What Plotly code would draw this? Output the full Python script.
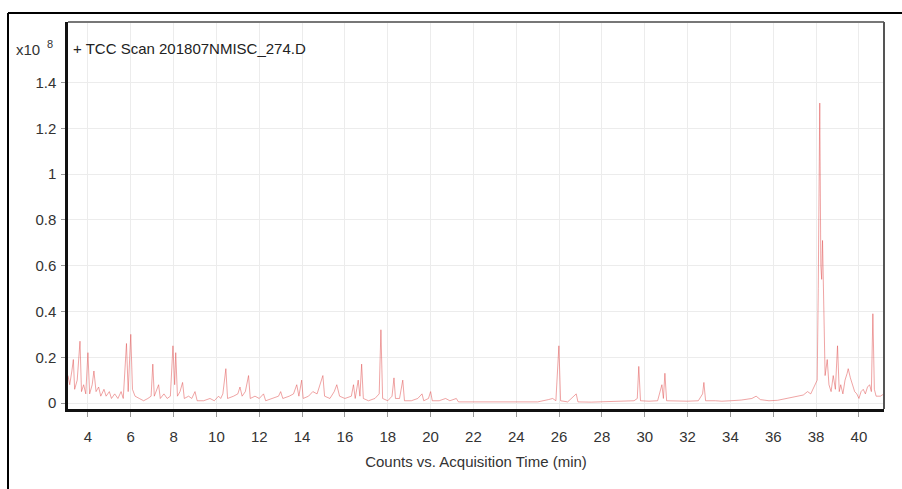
import plotly.graph_objects as go

# Acquisition time (min) and counts (x10^8)
time_min = [
    3.07, 3.15, 3.25, 3.32, 3.38, 3.5, 3.63, 3.7, 3.8, 3.9, 4.0, 4.08, 4.2, 4.28, 4.38, 4.5, 4.6, 4.75,
    4.85, 5.0, 5.1, 5.25, 5.4, 5.55, 5.65, 5.8, 5.88, 6.0, 6.08, 6.2, 6.4, 6.6, 6.8, 6.95, 7.03, 7.1,
    7.3, 7.38, 7.55, 7.7, 7.85, 7.97, 8.05, 8.1, 8.18, 8.3, 8.42, 8.5, 8.7, 8.85, 9.0, 9.1, 9.4, 9.7,
    9.9, 10.1, 10.2, 10.3, 10.44, 10.52, 10.8, 11.0, 11.1, 11.2, 11.35, 11.5, 11.58, 11.8, 12.0, 12.2,
    12.3, 12.6, 12.9, 13.0, 13.1, 13.4, 13.6, 13.75, 13.85, 13.98, 14.05, 14.3, 14.5, 14.7, 14.97,
    15.05, 15.3, 15.5, 15.62, 15.75, 16.0, 16.3, 16.4, 16.48, 16.62, 16.7, 16.78, 16.86, 17.1, 17.4,
    17.6, 17.68, 17.76, 18.0, 18.2, 18.29, 18.36, 18.55, 18.7, 18.78, 19.1, 19.4, 19.6, 19.68, 19.9,
    20.0, 20.08, 20.4, 20.7, 20.9, 21.2, 21.3, 22.0, 23.0, 24.0, 25.0, 25.5, 25.7, 25.85, 25.99, 26.07,
    26.4, 26.8, 26.88, 27.5, 28.0, 28.5, 29.0, 29.5, 29.65, 29.72, 29.8, 30.2, 30.6, 30.8, 30.87,
    30.94, 31.02, 31.5, 32.0, 32.5, 32.7, 32.76, 32.84, 33.3, 33.6, 34.0, 34.5, 35.0, 35.2, 35.4, 35.8,
    36.2, 36.6, 37.0, 37.4, 37.6, 37.75, 37.9, 38.05, 38.1, 38.17, 38.22, 38.26, 38.3, 38.35, 38.42,
    38.52, 38.6, 38.7, 38.8, 38.9, 39.0, 39.08, 39.15, 39.25, 39.35, 39.45, 39.5, 39.6, 39.7, 39.8,
    39.9, 40.0, 40.1, 40.2, 40.3, 40.4, 40.5, 40.58, 40.65, 40.72, 40.8, 41.0, 41.17,
]
counts_e8 = [
    0.12, 0.08, 0.14, 0.19, 0.06, 0.10, 0.27, 0.05, 0.08, 0.04, 0.22, 0.04, 0.08, 0.14, 0.05, 0.07, 0.03, 0.06,
    0.03, 0.05, 0.02, 0.04, 0.02, 0.05, 0.02, 0.26, 0.05, 0.30, 0.06, 0.03, 0.02, 0.01, 0.02, 0.03, 0.17, 0.03,
    0.08, 0.02, 0.04, 0.02, 0.03, 0.25, 0.08, 0.22, 0.03, 0.05, 0.09, 0.02, 0.03, 0.02, 0.05, 0.01, 0.01, 0.02,
    0.01, 0.03, 0.02, 0.04, 0.15, 0.02, 0.03, 0.04, 0.07, 0.03, 0.05, 0.12, 0.02, 0.03, 0.02, 0.04,
    0.01, 0.02, 0.03, 0.05, 0.02, 0.03, 0.04, 0.08, 0.03, 0.10, 0.02, 0.03, 0.05, 0.04, 0.12,
    0.03, 0.02, 0.05, 0.08, 0.03, 0.02, 0.03, 0.08, 0.02, 0.10, 0.03, 0.17, 0.02, 0.01, 0.02,
    0.04, 0.32, 0.02, 0.01, 0.03, 0.11, 0.02, 0.02, 0.10, 0.01, 0.01, 0.02, 0.04, 0.01, 0.02,
    0.05, 0.01, 0.01, 0.02, 0.01, 0.02, 0.005, 0.005, 0.004, 0.004, 0.005, 0.015, 0.02, 0.01, 0.25, 0.01,
    0.005, 0.04, 0.005, 0.004, 0.005, 0.005, 0.006, 0.01, 0.02, 0.16, 0.01, 0.008, 0.01, 0.08, 0.02,
    0.13, 0.01, 0.008, 0.008, 0.01, 0.04, 0.09, 0.01, 0.01, 0.008, 0.01, 0.013, 0.02, 0.03, 0.015, 0.01,
    0.012, 0.02, 0.025, 0.035, 0.05, 0.04, 0.07, 0.10, 0.5, 1.31, 0.6, 0.54, 0.71, 0.4, 0.12,
    0.19, 0.08, 0.05, 0.12, 0.06, 0.25, 0.05, 0.08, 0.04, 0.10, 0.13, 0.15, 0.11, 0.08, 0.05,
    0.04, 0.02, 0.05, 0.06, 0.04, 0.07, 0.08, 0.05, 0.39, 0.06, 0.03, 0.03, 0.04,
]

x_ticks = [4, 6, 8, 10, 12, 14, 16, 18, 20, 22, 24, 26, 28, 30, 32, 34, 36, 38, 40]
y_ticks = [0, 0.2, 0.4, 0.6, 0.8, 1.0, 1.2, 1.4]
y_tick_text = ["0", "0.2", "0.4", "0.6", "0.8", "1", "1.2", "1.4"]

FONT = "Liberation Sans, Arial, sans-serif"

fig = go.Figure()
fig.add_trace(go.Scatter(
    x=time_min, y=counts_e8, mode="lines",
    line=dict(color="rgba(225,90,90,0.55)", width=1),
    showlegend=False,
))

W, H = 902, 489
L, R, T, B = 68, 18, 22, 80
pw, ph = W - L - R, H - T - B

def px_x(p):
    return (p - L) / pw

def px_y(p):
    return (H - B - p) / ph

fig.update_layout(
    width=W, height=H,
    margin=dict(l=L, r=R, t=T, b=B, autoexpand=False),
    paper_bgcolor="white", plot_bgcolor="white",
    font=dict(family=FONT, color="#333333", size=14),
    xaxis=dict(
        range=[3.07, 41.17], tickvals=x_ticks, ticktext=[str(v) for v in x_ticks],
        automargin=False,
        showgrid=True, gridcolor="#ececec", gridwidth=1, zeroline=False,
        showline=True, linecolor="#111111", linewidth=2.5,
        ticks="outside", ticklen=5, tickcolor="#999999", tickwidth=1,
        ticklabelstandoff=7, tickfont=dict(size=15),
        title=dict(text="Counts vs. Acquisition Time (min)", font=dict(size=15), standoff=13),
    ),
    yaxis=dict(
        range=[-0.026, 1.664], tickvals=y_ticks, ticktext=y_tick_text,
        automargin=False,
        showgrid=True, gridcolor="#ececec", gridwidth=1, zeroline=False,
        showline=True, linecolor="#111111", linewidth=2.5,
        ticks="outside", ticklen=4, tickcolor="#999999", tickwidth=1,
        ticklabelstandoff=2, tickfont=dict(size=15),
    ),
    shapes=[
        # top and right frame of the plot area (gray)
        dict(type="line", xref="paper", yref="paper", x0=0, x1=1, y0=1, y1=1,
             line=dict(color="#777777", width=2)),
        dict(type="line", xref="paper", yref="paper", x0=1, x1=1, y0=0, y1=1,
             line=dict(color="#555555", width=2)),
        # outer black frame (top and left)
        dict(type="line", xref="paper", yref="paper", x0=px_x(8), x1=px_x(902), y0=px_y(13), y1=px_y(13),
             line=dict(color="black", width=2)),
        dict(type="line", xref="paper", yref="paper", x0=px_x(8), x1=px_x(8), y0=px_y(13), y1=px_y(489),
             line=dict(color="black", width=2)),
    ],
    annotations=[
        dict(text="+ TCC Scan 201807NMISC_274.D", xref="paper", yref="paper",
             x=px_x(71), y=px_y(48), xanchor="left", yanchor="middle", showarrow=False,
             font=dict(size=15, color="#222222")),
        dict(text="x10", xref="paper", yref="paper",
             x=px_x(42), y=px_y(49), xanchor="right", yanchor="middle", showarrow=False,
             font=dict(size=15, color="#333333")),
        dict(text="8", xref="paper", yref="paper",
             x=px_x(50), y=px_y(44), xanchor="center", yanchor="middle", showarrow=False,
             font=dict(size=11, color="#333333")),
    ],
)

fig.write_html(
    "out.html",
    config={"displayModeBar": False},
    post_script="document.body.style.margin='0';document.body.style.overflow='hidden';",
)
